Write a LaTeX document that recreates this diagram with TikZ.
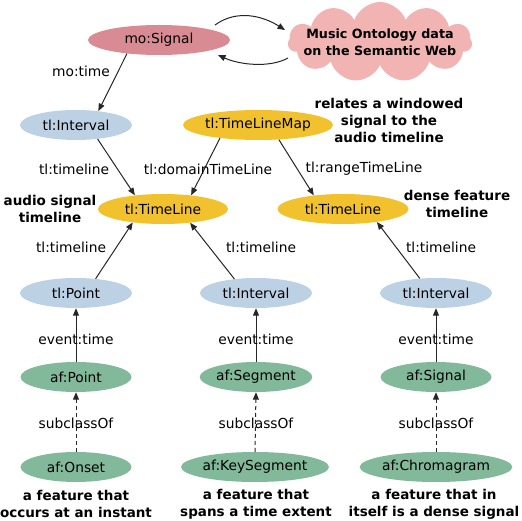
\documentclass[tikz,border=0pt]{standalone}
\usepackage{fontspec}
\setmainfont{DejaVu Sans}
\usetikzlibrary{shapes.geometric,shapes.symbols,arrows.meta}
\definecolor{sigcol}{HTML}{D98B93}
\definecolor{cloudcol}{HTML}{F2B3B3}
\definecolor{bluecol}{HTML}{BDD1E4}
\definecolor{yelcol}{HTML}{F1C22E}
\definecolor{grncol}{HTML}{81B99A}
\tikzset{
  ell/.style={ellipse,inner sep=0pt,minimum height=30pt,font=\fontsize{13.8}{16}\selectfont},
  lbl/.style={inner sep=0pt,font=\fontsize{13.8}{16}\selectfont},
  note/.style={inner sep=0pt,align=center,font=\fontsize{13.5}{17}\selectfont\bfseries},
  arr/.style={-{Triangle[length=7.5pt,width=6pt]},line width=1pt,draw=black!85},
  darr/.style={arr,dashed,dash pattern=on 4pt off 3pt},
}
\begin{document}
\begin{tikzpicture}[x=1pt,y=-1pt]
\useasboundingbox (0,0) rectangle (522,521);
% nodes
\node[ell,fill=sigcol,minimum width=142pt] (sig) at (159,40) {mo:Signal};
\node[cloud,cloud puffs=11,cloud puff arc=140,cloud ignores aspect,fill=cloudcol,inner sep=0pt,
      minimum width=184pt,minimum height=80pt] (cloud) at (380,42) {};
\node[inner sep=0pt,align=center,font=\fontsize{12.7}{17}\selectfont\bfseries] (cloudtxt) at (cloud.center) {Music Ontology data\\on the Semantic Web};
\node[ell,fill=bluecol,minimum width=112pt] (int1) at (76,125) {tl:Interval};
\node[ell,fill=yelcol,minimum width=150pt] (map) at (258,125) {tl:TimeLineMap};
\node[ell,fill=yelcol,minimum width=130pt] (tlA) at (163,209) {tl:TimeLine};
\node[ell,fill=yelcol,minimum width=131pt] (tlB) at (343,209) {tl:TimeLine};
\node[ell,fill=bluecol,minimum width=112pt] (pt) at (76,293) {tl:Point};
\node[ell,fill=bluecol,minimum width=112pt] (int2) at (256,293) {tl:Interval};
\node[ell,fill=bluecol,minimum width=112pt] (int3) at (436,293) {tl:Interval};
\node[ell,fill=grncol,minimum width=111pt] (afp) at (76,377) {af:Point};
\node[ell,fill=grncol,minimum width=112pt] (afs) at (256,377) {af:Segment};
\node[ell,fill=grncol,minimum width=111pt] (afg) at (436,377) {af:Signal};
\node[ell,fill=grncol,minimum width=111pt] (ons) at (76,467) {af:Onset};
\node[ell,fill=grncol,minimum width=141pt] (key) at (255,467) {af:KeySegment};
\node[ell,fill=grncol,minimum width=144pt] (chr) at (436,467) {af:Chromagram};
% notes
\node[note] (n1) at (389,120) {relates a windowed\\signal to the\\audio timeline};
\node[note] (n2) at (50,208.5) {audio signal\\timeline};
\node[note] (n3) at (457,204) {dense feature\\timeline};
\node[note] (n4) at (76,504) {a feature that\\occurs at an instant};
\node[note] (n5) at (256,504) {a feature that\\spans a time extent};
\node[note] (n6) at (434,504) {a feature that in\\itself is a dense signal};
% connectors
\draw[arr] ([xshift=56pt,yshift=15pt]sig.center) .. controls +(22pt,16pt) and +(-22pt,14pt) .. ([xshift=-95pt,yshift=12pt]cloud.center);
\draw[arr] ([xshift=-92pt,yshift=-16pt]cloud.center) .. controls +(-18pt,-10pt) and +(22pt,-10pt) .. ([xshift=59pt,yshift=-15pt]sig.center);
\draw[arr] (sig.203.5) -- (int1.32.5);
\draw[arr] (int1.327.5) -- (tlA.154.3);
\draw[arr] (map.199.4) -- (tlA.26.7);
\draw[arr] (map.325.6) -- (tlB.155.2);
\draw[arr] (pt.36.6) -- (tlA.204.8);
\draw[arr] (int2.147.9) -- (tlA.333.3);
\draw[arr] (int3.138) -- (tlB.339.4);
\draw[arr] (afp.north) -- (pt.south);
\draw[arr] (afs.north) -- (int2.south);
\draw[arr] (afg.north) -- (int3.south);
\draw[darr] (ons.north) -- (afp.south);
\draw[darr] (key.north) -- (afs.south);
\draw[darr] (chr.north) -- (afg.south);
% edge labels
\node[lbl] (l1) at (81,71) {mo:time};
\node[lbl] (l2) at (74,169) {tl:timeline};
\node[lbl] (l3) at (208,169) {tl:domainTimeLine};
\node[lbl] (l4) at (364,169) {tl:rangeTimeLine};
\node[lbl] (l5) at (71,247) {tl:timeline};
\node[lbl] (l6) at (261,247) {tl:timeline};
\node[lbl] (l7) at (441,247) {tl:timeline};
\node[lbl] (l8) at (76,339) {event:time};
\node[lbl] (l9) at (256,339) {event:time};
\node[lbl] (l10) at (436,339) {event:time};
\node[lbl] (l11) at (76,423) {subclassOf};
\node[lbl] (l12) at (256,423) {subclassOf};
\node[lbl] (l13) at (436,423) {subclassOf};
\end{tikzpicture}
\end{document}
